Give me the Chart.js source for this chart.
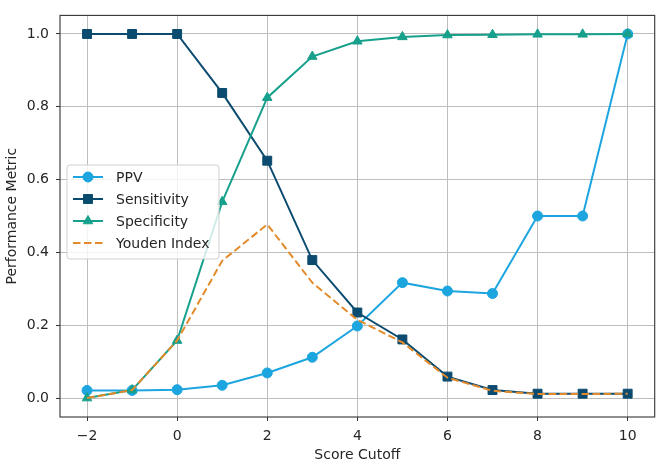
<!DOCTYPE html>
<html lang="en">
<head>
    <meta charset="UTF-8">
    <title>Performance Metric vs Score Cutoff</title>
    <script src="https://cdn.jsdelivr.net/npm/chart.js"></script>
    <style>
        body { margin: 0; background: #fff; }
        canvas { display: block; }
    </style>
</head>
<body>
    <canvas id="metricChart" width="662" height="467"></canvas>

    <script>
        // values
        const cutoffs = [-2, -1, 0, 1, 2, 3, 4, 5, 6, 7, 8, 9, 10];
        const ppv = [0.021, 0.021, 0.023, 0.035, 0.069, 0.112, 0.198, 0.317, 0.294, 0.287, 0.5, 0.5, 1.0];
        const sensitivity = [1, 1, 1, 0.838, 0.652, 0.379, 0.235, 0.161, 0.059, 0.022, 0.012, 0.012, 0.012];
        const specificity = [0, 0.022, 0.158, 0.539, 0.825, 0.938, 0.98, 0.992, 0.997, 0.998, 0.999, 0.999, 1.0];
        const youden = [0, 0.022, 0.158, 0.377, 0.477, 0.317, 0.215, 0.153, 0.056, 0.02, 0.011, 0.011, 0.012];

        const xTicks = [-2, 0, 2, 4, 6, 8, 10];
        const yTicks = [0, 0.2, 0.4, 0.6, 0.8, 1.0];

        const FONT = 'DejaVu Sans';
        const TEXT = '#262626';

        const series = [
            { label: 'PPV', data: ppv, color: '#1ca5df', style: 'circle', r: 5, dash: [] },
            { label: 'Sensitivity', data: sensitivity, color: '#0b4b6f', style: 'rect', r: 6.3, dash: [] },
            { label: 'Specificity', data: specificity, color: '#17a08c', style: 'triangle', r: 5.5, dash: [] },
            { label: 'Youden Index', data: youden, color: '#e38b2a', style: false, r: 0, dash: [7.5, 3.5] }
        ];

        const toPoints = arr => arr.map((v, i) => ({ x: cutoffs[i], y: v }));

        // legend box inside the plot, like matplotlib
        const insideLegend = {
            id: 'insideLegend',
            afterDatasetsDraw(chart) {
                const ctx = chart.ctx;
                const area = chart.chartArea;
                const x0 = area.left + 7, y0 = 165, w = 152, h = 94;
                ctx.save();
                ctx.beginPath();
                ctx.roundRect(x0, y0, w, h, 3);
                ctx.fillStyle = 'rgba(255,255,255,0.8)';
                ctx.fill();
                ctx.strokeStyle = '#d0d0d0';
                ctx.lineWidth = 1;
                ctx.stroke();

                series.forEach((s, i) => {
                    const y = y0 + 12 + i * 22;
                    ctx.strokeStyle = s.color;
                    ctx.fillStyle = s.color;
                    ctx.lineWidth = 2;
                    ctx.setLineDash(s.dash);
                    ctx.beginPath();
                    ctx.moveTo(x0 + 6, y);
                    ctx.lineTo(x0 + 36, y);
                    ctx.stroke();
                    ctx.setLineDash([]);
                    if (s.style) {
                        ctx.lineWidth = 1;
                        Chart.helpers.drawPoint(ctx, { pointStyle: s.style, radius: s.r, rotation: 0, borderWidth: 1 }, x0 + 21, y);
                    }
                    ctx.fillStyle = TEXT;
                    ctx.font = '14px ' + FONT;
                    ctx.textBaseline = 'middle';
                    ctx.fillText(s.label, x0 + 49, y + 1);
                });

                // axes frame (all four spines)
                ctx.strokeStyle = '#333';
                ctx.lineWidth = 1.1;
                ctx.strokeRect(area.left, area.top, area.right - area.left, area.bottom - area.top);
                ctx.restore();
            }
        };

        new Chart(document.getElementById('metricChart'), {
            type: 'line',
            data: {
                datasets: series.map((s, i) => ({
                    label: s.label,
                    data: toPoints(s.data),
                    borderColor: s.color,
                    backgroundColor: s.color,
                    borderWidth: 2,
                    borderDash: s.dash,
                    pointStyle: s.style,
                    pointRadius: s.r,
                    pointBorderWidth: 1,
                    pointHoverRadius: s.r,
                    order: 4 - i
                }))
            },
            options: {
                responsive: false,
                animation: false,
                layout: { padding: { top: 5, right: 5, left: 0, bottom: 0 } },
                plugins: {
                    legend: { display: false },
                    tooltip: { enabled: false }
                },
                scales: {
                    x: {
                        type: 'linear',
                        min: -2.6,
                        max: 10.6,
                        afterBuildTicks: scale => { scale.ticks = xTicks.map(v => ({ value: v })); },
                        afterFit: scale => { scale.height = 50; },
                        border: { display: false },
                        grid: { color: '#bdbdbd', lineWidth: 1, tickColor: '#333', tickLength: 4 },
                        ticks: {
                            color: TEXT,
                            font: { family: FONT, size: 14 },
                            padding: 7,
                            maxRotation: 0,
                            callback: v => (v < 0 ? '\u2212' + Math.abs(v) : String(v))
                        },
                        title: {
                            display: true,
                            text: 'Score Cutoff',
                            color: TEXT,
                            font: { family: FONT, size: 14 },
                            padding: { top: 0, bottom: 3 }
                        }
                    },
                    y: {
                        min: -0.052,
                        max: 1.051,
                        afterBuildTicks: scale => { scale.ticks = yTicks.map(v => ({ value: v })); },
                        afterFit: scale => { scale.width = 60; },
                        border: { display: false },
                        grid: { color: '#bdbdbd', lineWidth: 1, tickColor: '#333', tickLength: 4 },
                        ticks: {
                            color: TEXT,
                            font: { family: FONT, size: 14 },
                            padding: 7,
                            callback: v => v.toFixed(1)
                        },
                        title: {
                            display: true,
                            text: 'Performance Metric',
                            color: TEXT,
                            font: { family: FONT, size: 14 },
                            padding: { top: 4, bottom: 0 }
                        }
                    }
                }
            },
            plugins: [insideLegend]
        });
    </script>
</body>
</html>
